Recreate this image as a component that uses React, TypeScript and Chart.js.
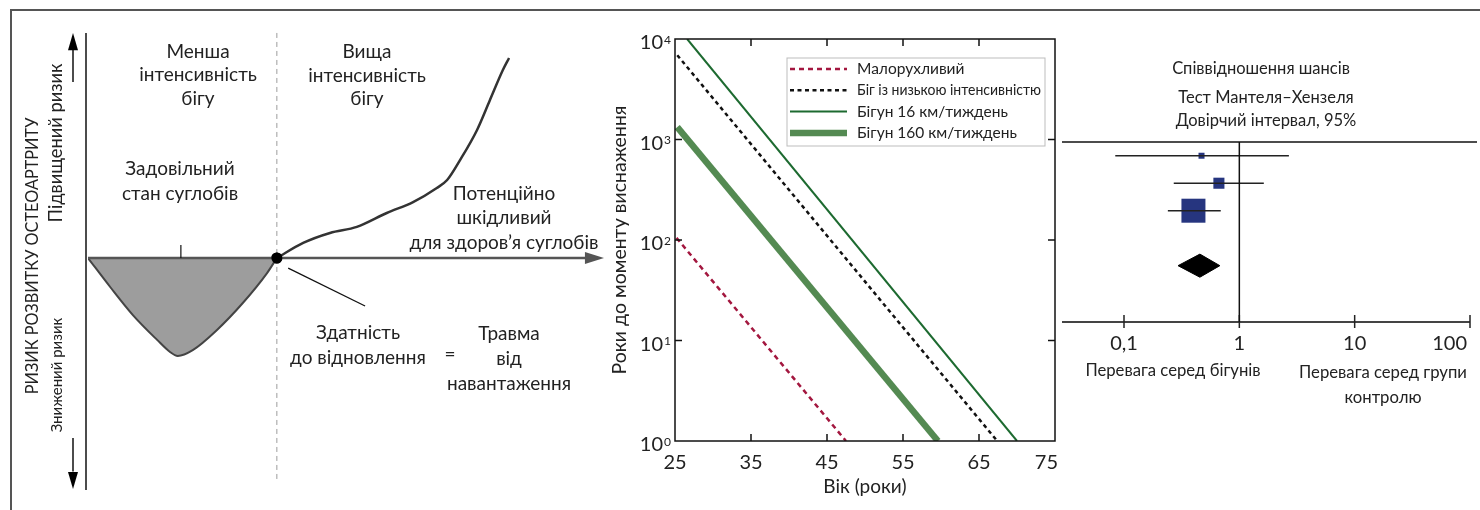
import React, { useEffect, useRef } from 'react';
import { Chart, registerables } from 'chart.js';

Chart.register(...registerables);

const FONT = 'Lato, "Noto Sans", "DejaVu Sans", sans-serif';
const INK = '#222';

// ---------- Panel 1: concept (running intensity 0–100, relative OA risk −100…100)
const jointIntensity = [0, 4.3, 8.7, 13.4, 15.9, 17.4, 20.3, 25.0, 30.0, 34.7, 36.6];
const jointRisk = [0, -12.5, -24.6, -35.3, -40.5, -42.2, -39.7, -31.0, -19.4, -6.5, 0];
const harmIntensity = [36.6, 41.7, 46.9, 52.1, 57.9, 63.0, 67.6, 69.6, 72.1, 75.4, 77.9, 80.4, 81.6];
const harmRisk = [0, 6.5, 10.8, 13.4, 19.4, 24.1, 30.2, 33.6, 42.2, 55.2, 68.1, 81.0, 86.2];
const thresholdIntensity = 36.6;
const optimumIntensity = 18.0;
const pointerIntensity = [38.8, 53.7];
const pointerRisk = [-4.4, -20.7];

// ---------- Panel 2: years to exhaustion vs age
const ageTicks = [25, 35, 45, 55, 65, 75];
const yearDecades = [0, 1, 2, 3, 4];
const seriesLabels = ['Малорухливий', 'Біг із низькою інтенсивністю', 'Бігун 16 км/тиждень', 'Бігун 160 км/тиждень'];
const sedentaryAge = [25.2, 47.5];
const sedentaryYears = [105, 1];
const lowIntensityAge = [25.3, 67.4];
const lowIntensityYears = [6900, 1];
const runner16Age = [26.6, 70.0];
const runner16Years = [10000, 1];
const runner160Age = [25.3, 59.6];
const runner160Years = [1330, 1];

// ---------- Panel 3: odds ratios (Mantel–Haenszel)
const studyRow = [0.5, 1.5, 2.5];
const studyOddsRatio = [0.47, 0.665, 0.40];
const studyCiLow = [0.084, 0.27, 0.24];
const studyCiHigh = [2.69, 1.63, 0.69];
const studyWeight = [1, 3.4, 16];
const pooledRow = 4.5;
const pooledOddsRatio = 0.455;
const pooledCiLow = 0.294;
const pooledCiHigh = 0.678;
const orTicks = [0.1, 1, 10, 100];
const orTickLabels = ['0,1', '1', '10', '100'];

const pts = (xs: number[], ys: number[]) => xs.map((x, i) => ({ x, y: ys[i] }));

function seg(ctx: CanvasRenderingContext2D, x1: number, y1: number, x2: number, y2: number) {
  ctx.beginPath();
  ctx.moveTo(x1, y1);
  ctx.lineTo(x2, y2);
  ctx.stroke();
}
function tri(ctx: CanvasRenderingContext2D, p: number[][]) {
  ctx.beginPath();
  ctx.moveTo(p[0][0], p[0][1]);
  for (let i = 1; i < p.length; i++) ctx.lineTo(p[i][0], p[i][1]);
  ctx.closePath();
  ctx.fill();
}

const noPlugins = { legend: { display: false }, tooltip: { enabled: false } };

// ---------------- Panel 1 decor
const panel1Decor = {
  id: 'panel1Decor',
  beforeDatasetsDraw(chart: any) {
    const { ctx, scales: { x, y } } = chart;
    ctx.save();
    ctx.strokeStyle = '#9c9c9c';
    ctx.lineWidth = 1;
    ctx.setLineDash([5, 4]);
    const tx = x.getPixelForValue(thresholdIntensity);
    seg(ctx, tx, y.getPixelForValue(97), tx, y.getPixelForValue(-95.7));
    ctx.restore();
  },
  afterDatasetsDraw(chart: any) {
    const { ctx, chartArea: a, scales: { x, y } } = chart;
    const px = (v: number) => x.getPixelForValue(v);
    const py = (v: number) => y.getPixelForValue(v);
    ctx.save();
    ctx.strokeStyle = '#111';
    ctx.fillStyle = '#000';
    ctx.lineWidth = 1.5;
    seg(ctx, a.left - 2, py(97), a.left - 2, py(-100));
    const ax = a.left - 15;
    seg(ctx, ax, py(75.9), ax, py(90));
    tri(ctx, [[ax, py(97)], [ax - 5, py(89.6)], [ax + 5, py(89.6)]]);
    seg(ctx, ax, py(-77.6), ax, py(-92));
    tri(ctx, [[ax, py(-99.6)], [ax - 5, py(-92.2)], [ax + 5, py(-92.2)]]);
    ctx.strokeStyle = '#555';
    ctx.fillStyle = '#555';
    ctx.lineWidth = 2.5;
    seg(ctx, px(0), py(0), px(96.6), py(0));
    tri(ctx, [[px(100), py(0)], [px(96.3), py(0) - 6], [px(96.3), py(0) + 6]]);
    ctx.strokeStyle = '#111';
    ctx.lineWidth = 1.2;
    seg(ctx, px(optimumIntensity), py(0), px(optimumIntensity), py(5.6));
    ctx.restore();
    chart.getDatasetMeta(3).data.forEach((el: any) => el.draw(ctx, a));
  },
};

// ---------------- Panel 2 decor
const panel2Decor = {
  id: 'panel2Decor',
  afterDatasetsDraw(chart: any) {
    const { ctx, chartArea: a, scales: { x, y } } = chart;
    ctx.save();
    ctx.strokeStyle = '#111';
    ctx.lineWidth = 1.5;
    ctx.strokeRect(a.left, a.top, a.right - a.left, a.bottom - a.top);
    ageTicks.slice(1, -1).forEach((v) => {
      const tx = x.getPixelForValue(v);
      seg(ctx, tx, a.top, tx, a.top + 7);
      seg(ctx, tx, a.bottom, tx, a.bottom - 7);
    });
    yearDecades.slice(1, -1).forEach((e) => {
      const ty = y.getPixelForValue(Math.pow(10, e));
      seg(ctx, a.left, ty, a.left + 7, ty);
      seg(ctx, a.right, ty, a.right - 7, ty);
    });
    ctx.fillStyle = INK;
    ctx.textBaseline = 'middle';
    yearDecades.forEach((e) => {
      const ty = y.getPixelForValue(Math.pow(10, e));
      ctx.font = `20px ${FONT}`;
      ctx.textAlign = 'right';
      ctx.fillText('10', a.left - 12, ty + 4);
      ctx.font = `12px ${FONT}`;
      ctx.textAlign = 'left';
      ctx.fillText(String(e), a.left - 11, ty + 1);
    });
    ctx.font = `20px ${FONT}`;
    ageTicks.forEach((v, i) => {
      const tx = x.getPixelForValue(v);
      const last = i === ageTicks.length - 1;
      ctx.textAlign = last ? 'right' : 'center';
      ctx.fillText(String(v), last ? tx + 3 : tx, a.bottom + 22);
    });
    // legend
    const bx = a.right - 268;
    const by = a.top + 19;
    const bw = 258;
    const bh = 88;
    ctx.fillStyle = '#fff';
    ctx.fillRect(bx, by, bw, bh);
    ctx.strokeStyle = '#bdbdbd';
    ctx.lineWidth = 1;
    ctx.strokeRect(bx, by, bw, bh);
    chart.data.datasets.forEach((ds: any, i: number) => {
      const ly = by + 11 + i * 21.3;
      ctx.save();
      ctx.strokeStyle = ds.borderColor;
      ctx.lineWidth = ds.borderWidth;
      ctx.setLineDash(ds.borderDash || []);
      seg(ctx, bx + 3, ly, bx + 60, ly);
      ctx.restore();
      ctx.fillStyle = INK;
      ctx.font = `15.5px ${FONT}`;
      ctx.textAlign = 'left';
      ctx.textBaseline = 'middle';
      ctx.fillText(ds.label, bx + 70, ly, bw - 74);
    });
    ctx.restore();
  },
};

// ---------------- Panel 3 decor
const panel3Decor = {
  id: 'panel3Decor',
  beforeDatasetsDraw(chart: any) {
    const { ctx, chartArea: a, scales: { x } } = chart;
    ctx.save();
    ctx.strokeStyle = '#111';
    ctx.lineWidth = 1.5;
    seg(ctx, a.left, a.top, chart.width - 3, a.top);
    ctx.strokeStyle = '#444';
    ctx.lineWidth = 2;
    seg(ctx, a.left, a.bottom, a.right, a.bottom);
    ctx.fillStyle = INK;
    ctx.font = `20px ${FONT}`;
    ctx.textBaseline = 'middle';
    orTicks.forEach((v, i) => {
      const tx = x.getPixelForValue(v);
      ctx.strokeStyle = '#222';
      ctx.lineWidth = 1.5;
      seg(ctx, tx, a.bottom - 7, tx, a.bottom + 6);
      const last = i === orTicks.length - 1;
      ctx.textAlign = last ? 'right' : 'center';
      ctx.fillText(orTickLabels[i], last ? tx - 3 : tx, a.bottom + 22);
    });
    ctx.restore();
  },
};

function useChart(ref: React.RefObject<HTMLCanvasElement | null>, make: (c: HTMLCanvasElement) => Chart) {
  useEffect(() => {
    if (!ref.current) return;
    const ch = make(ref.current);
    return () => ch.destroy();
  }, []);
}

function Note(props: { x: number; y: number; size?: number; lh?: number; rotate?: number; children: React.ReactNode }) {
  const { x, y, size = 19, lh, rotate, children } = props;
  return (
    <div
      style={{
        position: 'absolute',
        left: x,
        top: y,
        transform: `translate(-50%, -50%)${rotate ? ` rotate(${rotate}deg)` : ''}`,
        fontSize: size,
        lineHeight: lh ? `${lh}px` : 1.2,
        whiteSpace: 'pre',
        textAlign: 'center',
      }}
    >
      {children}
    </div>
  );
}

export default function App() {
  const c1 = useRef<HTMLCanvasElement>(null);
  const c2 = useRef<HTMLCanvasElement>(null);
  const c3 = useRef<HTMLCanvasElement>(null);

  useChart(c1, (el) =>
    new Chart(el, {
      type: 'line',
      data: {
        datasets: [
          {
            data: pts(jointIntensity, jointRisk),
            borderColor: '#444',
            borderWidth: 2,
            backgroundColor: '#9d9d9d',
            fill: 'origin',
            pointRadius: 0,
            cubicInterpolationMode: 'monotone',
          },
          {
            data: pts(harmIntensity, harmRisk),
            borderColor: '#333',
            borderWidth: 2.5,
            pointRadius: 0,
            fill: false,
            cubicInterpolationMode: 'monotone',
          },
          {
            data: pts(pointerIntensity, pointerRisk),
            borderColor: '#111',
            borderWidth: 1.3,
            pointRadius: 0,
            fill: false,
          },
          {
            data: [{ x: thresholdIntensity, y: 0 }],
            showLine: false,
            pointRadius: 5.5,
            pointBackgroundColor: '#000',
            pointBorderWidth: 0,
          },
        ],
      } as any,
      options: {
        responsive: false,
        animation: false,
        devicePixelRatio: 1,
        layout: { autoPadding: false, padding: { left: 88, right: 6, top: 26, bottom: 20 } },
        scales: {
          x: { type: 'linear', min: 0, max: 100, display: false },
          y: { type: 'linear', min: -100, max: 100, display: false },
        },
        plugins: noPlugins as any,
      } as any,
      plugins: [panel1Decor],
    })
  );

  useChart(c2, (el) =>
    new Chart(el, {
      type: 'line',
      data: {
        datasets: [
          {
            label: seriesLabels[0],
            data: pts(sedentaryAge, sedentaryYears),
            borderColor: '#a3173f',
            borderWidth: 2.5,
            borderDash: [5, 4],
            pointRadius: 0,
          },
          {
            label: seriesLabels[1],
            data: pts(lowIntensityAge, lowIntensityYears),
            borderColor: '#111',
            borderWidth: 2.5,
            borderDash: [4, 3.5],
            pointRadius: 0,
          },
          {
            label: seriesLabels[2],
            data: pts(runner16Age, runner16Years),
            borderColor: '#1d6a30',
            borderWidth: 2,
            pointRadius: 0,
          },
          {
            label: seriesLabels[3],
            data: pts(runner160Age, runner160Years),
            borderColor: '#548a52',
            borderWidth: 6.5,
            pointRadius: 0,
          },
        ],
      } as any,
      options: {
        responsive: false,
        animation: false,
        devicePixelRatio: 1,
        layout: { autoPadding: false, padding: { left: 0, right: 20, top: 39, bottom: 0 } },
        scales: {
          x: {
            type: 'linear',
            min: 25,
            max: 75,
            afterFit: (s: any) => {
              s.height = 69;
            },
            grid: { display: false, drawTicks: false },
            border: { display: false },
            ticks: { display: false, stepSize: 10 },
            title: {
              display: true,
              text: 'Вік (роки)',
              color: INK,
              font: { family: FONT, size: 19 },
              padding: { top: 0, bottom: 12 },
            },
          },
          y: {
            type: 'logarithmic',
            min: 1,
            max: 10000,
            afterFit: (s: any) => {
              s.width = 75;
            },
            grid: { display: false, drawTicks: false },
            border: { display: false },
            ticks: { display: false },
            title: {
              display: true,
              text: 'Роки до моменту виснаження',
              color: INK,
              font: { family: FONT, size: 19.5 },
              padding: { top: 8, bottom: 0 },
            },
          },
        } as any,
        plugins: noPlugins as any,
      } as any,
      plugins: [panel2Decor],
    })
  );

  useChart(c3, (el) =>
    new Chart(el, {
      type: 'line',
      data: {
        datasets: [
          {
            data: [
              { x: 1, y: 0 },
              { x: 1, y: 6.55 },
            ],
            borderColor: '#111',
            borderWidth: 1.5,
            pointRadius: 0,
          },
          ...studyOddsRatio.map((_, i) => ({
            data: [
              { x: studyCiLow[i], y: studyRow[i] },
              { x: studyCiHigh[i], y: studyRow[i] },
            ],
            borderColor: '#222',
            borderWidth: 1.5,
            pointRadius: 0,
          })),
          {
            data: pts(studyOddsRatio, studyRow),
            showLine: false,
            pointStyle: 'rect',
            pointRadius: studyWeight.map((w) => (6 * Math.sqrt(w)) / Math.SQRT2),
            pointBackgroundColor: '#26357f',
            pointBorderWidth: 0,
          },
          {
            data: [
              { x: pooledCiLow, y: pooledRow },
              { x: pooledOddsRatio, y: pooledRow - 0.42 },
              { x: pooledCiHigh, y: pooledRow },
              { x: pooledOddsRatio, y: pooledRow + 0.42 },
              { x: pooledCiLow, y: pooledRow },
            ],
            borderColor: '#000',
            borderWidth: 1,
            backgroundColor: '#000',
            fill: 'shape',
            pointRadius: 0,
          },
        ],
      } as any,
      options: {
        responsive: false,
        animation: false,
        devicePixelRatio: 1,
        layout: { autoPadding: false, padding: { left: 2, right: 10, top: 142, bottom: 188 } },
        scales: {
          x: { type: 'logarithmic', min: 0.029, max: 100, display: false },
          y: { type: 'linear', min: 0, max: 6.55, reverse: true, display: false },
        },
        plugins: noPlugins as any,
      } as any,
      plugins: [panel3Decor],
    })
  );

  return (
    <div
      style={{
        position: 'fixed',
        left: 0,
        top: 0,
        width: 1480,
        height: 510,
        background: '#fff',
        overflow: 'hidden',
        fontFamily: FONT,
        color: INK,
      }}
    >
      <div style={{ position: 'absolute', left: 10, top: 9, width: 1470, height: 2, background: '#555' }} />
      <div style={{ position: 'absolute', left: 10, top: 9, width: 2, height: 501, background: '#555' }} />
      <canvas ref={c1} width={610} height={510} style={{ position: 'absolute', left: 0, top: 0 }} />
      <canvas ref={c2} width={475} height={510} style={{ position: 'absolute', left: 600, top: 0 }} />
      <canvas ref={c3} width={420} height={510} style={{ position: 'absolute', left: 1060, top: 0 }} />

      <Note x={31.5} y={256} size={16.3} rotate={-90}>РИЗИК РОЗВИТКУ ОСТЕОАРТРИТУ</Note>
      <Note x={56} y={143} size={18.3} rotate={-90}>Підвищений ризик</Note>
      <Note x={56} y={375} size={15} rotate={-90}>Знижений ризик</Note>
      <Note x={198} y={73.5} lh={23.5}>{'Менша\nінтенсивність\nбігу'}</Note>
      <Note x={367} y={74} lh={23.5}>{'Вища\nінтенсивність\nбігу'}</Note>
      <Note x={180} y={180} lh={25}>{'Задовільний\nстан суглобів'}</Note>
      <Note x={504} y={217.5} lh={24.5}>{'Потенційно\nшкідливий\nдля здоров’я суглобів'}</Note>
      <Note x={358} y={344} lh={25}>{'Здатність\nдо відновлення'}</Note>
      <Note x={450} y={354}>=</Note>
      <Note x={509} y={357} lh={25}>{'Травма\nвід\nнавантаження'}</Note>

      <Note x={1261} y={69} size={16.5}>Співвідношення шансів</Note>
      <Note x={1266} y={97.5} size={16.5}>Тест Мантеля–Хензеля</Note>
      <Note x={1266} y={121} size={16.5}>Довірчий інтервал, 95%</Note>
      <Note x={1173} y={370} size={16.7}>Перевага серед бігунів</Note>
      <Note x={1383} y={384.5} size={16.7} lh={25}>{'Перевага серед групи\nконтролю'}</Note>
    </div>
  );
}
